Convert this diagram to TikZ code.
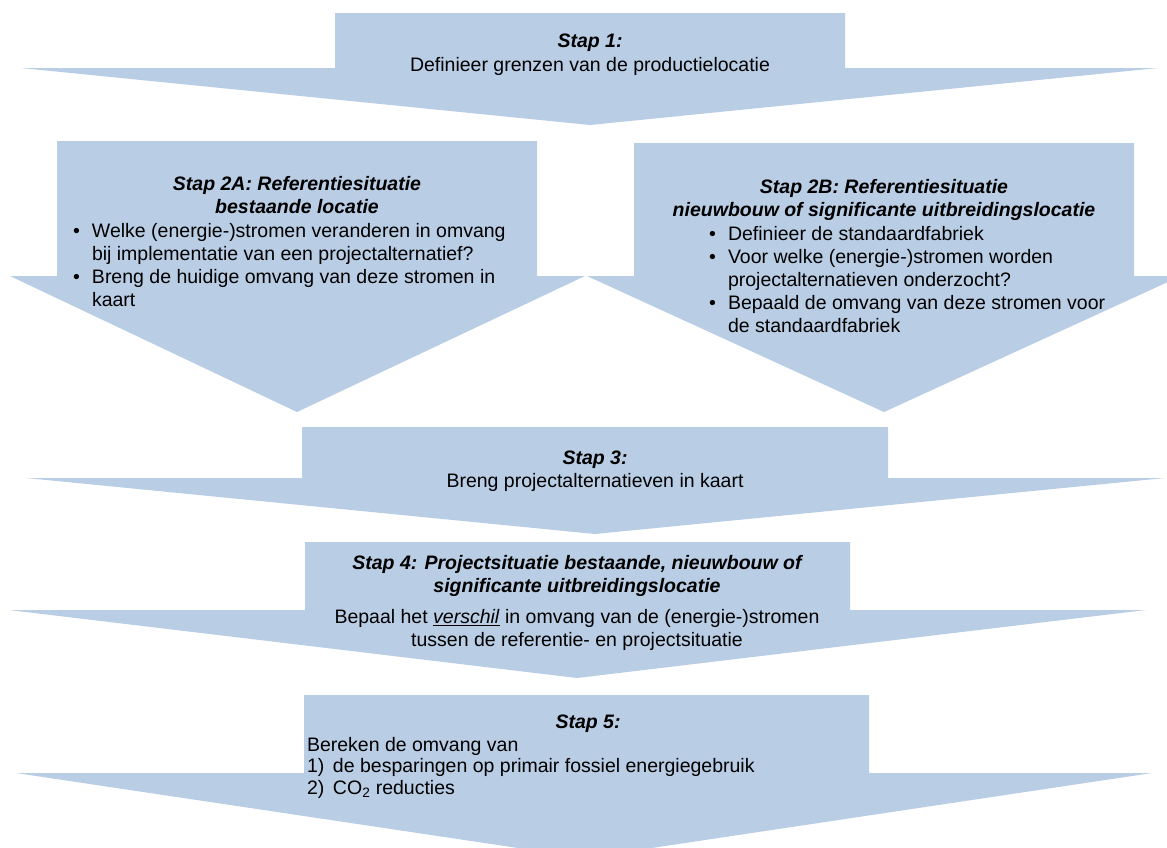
\documentclass[tikz,border=0pt]{standalone}
\usepackage{fontspec}
\setmainfont{Liberation Sans}
\definecolor{arrowfill}{HTML}{B9CDE5}
\tikzset{
  blockarrow/.style={fill=arrowfill, draw=none},
  bodytxt/.style={inner sep=0pt, outer sep=0pt, text=black,
    font=\fontsize{19.5}{23}\selectfont},
  ctrtxt/.style={bodytxt, align=center},
  lfttxt/.style={bodytxt, align=left},
  ttltxt/.style={inner sep=0pt, outer sep=0pt, text=black, align=center,
    font=\fontsize{19.5}{23}\selectfont\bfseries\itshape},
}
\newcommand{\bul}{\makebox[19pt][l]{\textbullet}}
\newcommand{\ind}{\hspace*{19pt}}
\begin{document}
\begin{tikzpicture}[x=1pt,y=-1pt]
\useasboundingbox (0,0) rectangle (1167,847);
\clip (0,0) rectangle (1167,847);
% Stap 1
\path[blockarrow] (335,13) -- (845,13) -- (845,68) -- (1158,68) -- (590,125)
  -- (21,68) -- (335,68) -- cycle;
% Stap 2A
\path[blockarrow] (57,141) -- (537,141) -- (537,276) -- (585,276) -- (297,412)
  -- (10,276) -- (57,276) -- cycle;
% Stap 2B
\path[blockarrow] (634,143) -- (1134,143) -- (1134,276) -- (1181,276) -- (884,412)
  -- (587,276) -- (634,276) -- cycle;
% Stap 3
\path[blockarrow] (302,427) -- (888,427) -- (888,478) -- (1165,478) -- (595,534)
  -- (26,478) -- (302,478) -- cycle;
% Stap 4
\path[blockarrow] (305,542) -- (850,542) -- (850,610) -- (1146,610) -- (577,678)
  -- (9,610) -- (305,610) -- cycle;
% Stap 5
\path[blockarrow] (304,695) -- (869,695) -- (869,773) -- (1152,773) -- (585,858)
  -- (16,773) -- (304,773) -- cycle;

% texts
\node[ttltxt, anchor=north] (s1t) at (590,34) {Stap 1:};
\node[ctrtxt, anchor=north] (s1b) at (590,57) {Definieer grenzen van de productielocatie};

\node[ttltxt, anchor=north] (s2at) at (297,176) {Stap 2A: Referentiesituatie\\bestaande locatie};
\node[lfttxt, anchor=north west] (s2ab) at (73,223) {\bul Welke (energie-)stromen veranderen in omvang\\
\ind bij implementatie van een projectalternatief?\\
\bul Breng de huidige omvang van deze stromen in\\
\ind kaart};

\node[ttltxt, anchor=north] (s2bt) at (884,179) {Stap 2B: Referentiesituatie\\nieuwbouw of significante uitbreidingslocatie};
\node[lfttxt, anchor=north west] (s2bb) at (709,226) {\bul Definieer de standaardfabriek\\
\bul Voor welke (energie-)stromen worden\\
\ind projectalternatieven onderzocht?\\
\bul Bepaald de omvang van deze stromen voor\\
\ind de standaardfabriek};

\node[ttltxt, anchor=north] (s3t) at (595,451) {Stap 3:};
\node[ctrtxt, anchor=north] (s3b) at (595,473) {Breng projectalternatieven in kaart};

\node[ttltxt, anchor=north] (s4t) at (577,555) {Stap 4: Projectsituatie bestaande, nieuwbouw of\\significante uitbreidingslocatie};
\node[ctrtxt, anchor=north] (s4b) at (577,609) {Bepaal het \underline{\textit{verschil}} in omvang van de (energie-)stromen\\tussen de referentie- en projectsituatie};

\node[ttltxt, anchor=north] (s5t) at (588,715) {Stap 5:};
\node[lfttxt, anchor=north west, font=\fontsize{19.5}{21.5}\selectfont] (s5b) at (307,737) {Bereken de omvang van\\
\makebox[26pt][l]{1)}de besparingen op primair fossiel energiegebruik\\
\makebox[26pt][l]{2)}CO\textsubscript{2} reducties};
\end{tikzpicture}
\end{document}
